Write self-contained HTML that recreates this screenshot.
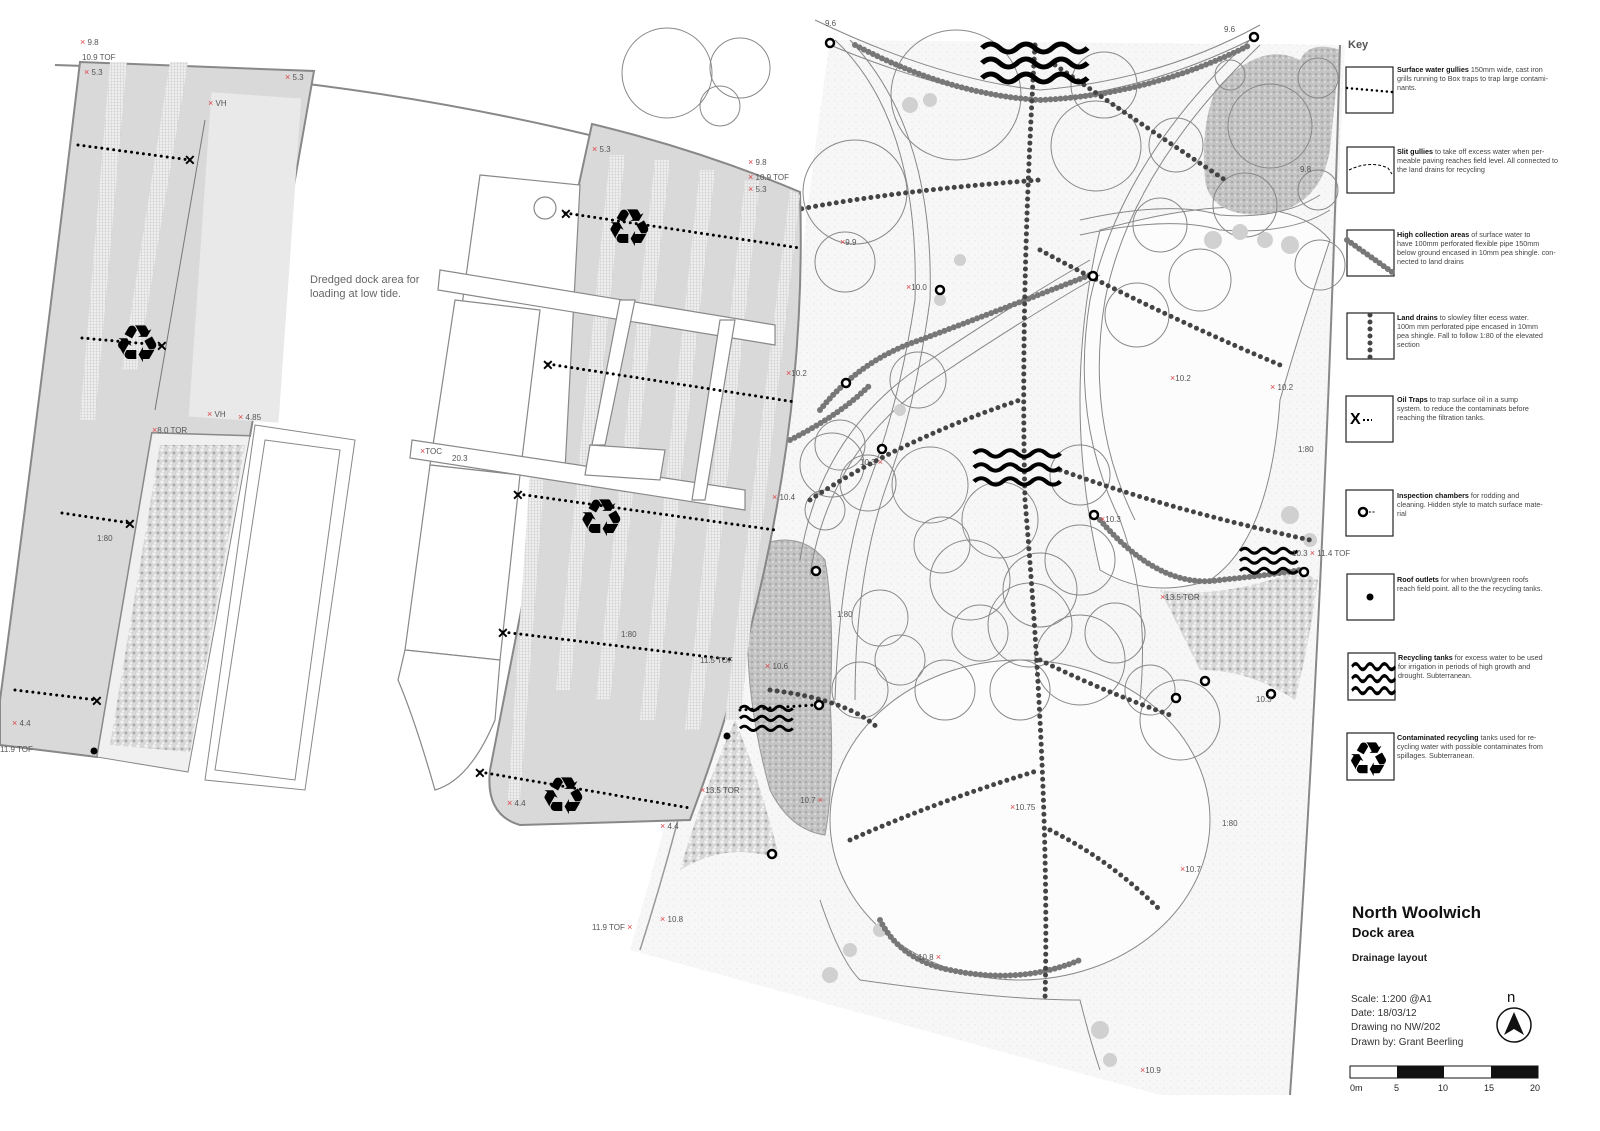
<!DOCTYPE html>
<html><head><meta charset="utf-8"><style>
html,body{margin:0;padding:0;background:#fff;}
svg{display:block;font-family:"Liberation Sans",sans-serif;}
.k{font-size:7.2px;fill:#444}
.kb{font-weight:bold;fill:#111}
.el{font-size:8px;fill:#555}
.rx{fill:#d44;font-size:9px}
</style></head><body>
<svg width="1600" height="1131" viewBox="0 0 1600 1131" xmlns="http://www.w3.org/2000/svg">
<defs>
<pattern id="hatch" width="3" height="3" patternUnits="userSpaceOnUse"><rect width="3" height="3" fill="#eee"/><path d="M0 0H3M0 0V3" stroke="#bbb" stroke-width="0.6"/></pattern>
<pattern id="grav" width="8" height="8" patternUnits="userSpaceOnUse"><rect width="8" height="8" fill="#d8d8d8"/><circle cx="2" cy="2" r="1.6" fill="#f4f4f4"/><circle cx="6" cy="5" r="1.4" fill="#aaa"/><circle cx="3" cy="7" r="1" fill="#fafafa"/></pattern>
<pattern id="dark" width="6" height="6" patternUnits="userSpaceOnUse"><rect width="6" height="6" fill="#c4c4c4"/><circle cx="2" cy="2" r="1.3" fill="#aaa"/><circle cx="5" cy="4" r="1" fill="#ddd"/></pattern>
<pattern id="spk" width="7" height="7" patternUnits="userSpaceOnUse"><rect width="7" height="7" fill="#f7f7f7"/><circle cx="2" cy="3" r="0.5" fill="#d4d4d4"/><circle cx="5" cy="6" r="0.4" fill="#ddd"/></pattern>
<g id="wave"><path d="M0 8 q8 -8 16 0 t16 0 t16 0 t16 0 t16 0 t16 0" fill="none" stroke="#000" stroke-width="5"/></g>
</defs>

<!-- right site speckled area -->
<path d="M790 380 Q800 250 830 40 L1345 45 Q1320 600 1290 1095 L1160 1095 L630 950 Q700 700 790 380 Z" fill="url(#spk)"/>
<ellipse cx="1020" cy="820" rx="190" ry="160" fill="#fcfcfc" stroke="#888" stroke-width="1"/>
<path d="M1100 230 Q1280 180 1330 240 Q1300 330 1280 400 Q1270 540 1210 580 Q1150 600 1100 570 Q1060 400 1100 230Z" fill="#fcfcfc" stroke="#888"/>

<!-- dark grey patches -->
<path d="M1215 90 Q1260 40 1300 60 Q1310 40 1340 50 L1330 150 Q1320 210 1260 215 Q1210 215 1205 180 Q1200 130 1215 90Z" fill="url(#dark)"/>
<path d="M760 545 Q800 530 825 560 Q835 620 830 700 Q835 780 825 835 Q790 830 770 790 Q745 700 748 620 Q745 560 760 545Z" fill="url(#dark)" stroke="#999"/>
<path d="M1160 590 Q1220 600 1300 570 L1318 580 Q1310 640 1295 700 Q1250 670 1200 670 Q1180 630 1160 590Z" fill="url(#grav)"/>
<path d="M735 720 Q760 780 780 860 Q730 840 680 870 Q700 800 735 720Z" fill="url(#grav)"/>

<path d="M1340 45 Q1325 600 1290 1095" fill="none" stroke="#888" stroke-width="2"/>
<path d="M760 400 Q720 700 640 950" fill="none" stroke="#999" stroke-width="1.5"/>

<g fill="none" stroke="#888" stroke-width="1">
<path d="M815 20 Q940 80 1040 90 Q1160 80 1260 25"/>
<path d="M830 45 Q950 95 1040 100 Q1150 90 1250 40"/>
<path d="M835 40 Q920 120 915 300 Q900 400 870 480 Q840 560 835 700"/>
<path d="M850 40 Q935 130 930 300 Q915 410 885 490 Q855 580 855 700"/>
<path d="M1250 40 Q1120 160 1090 300 Q1070 420 1120 520 Q1150 600 1140 700"/>
<path d="M1260 45 Q1130 170 1105 300 Q1085 420 1135 520"/>
<path d="M800 560 Q820 430 930 360 Q1020 300 1090 260"/>
<path d="M810 575 Q830 445 940 375 Q1030 315 1100 275"/>
<path d="M1080 220 Q1170 200 1220 215 Q1280 220 1320 195"/>
<path d="M1080 235 Q1170 215 1220 230 Q1290 235 1330 210"/>
<path d="M820 900 Q840 960 860 980 Q1000 1000 1080 1000 Q1090 1040 1100 1070"/>
</g>
<g fill="none" stroke="#888" stroke-width="1">
<circle cx="667" cy="73" r="45"/><circle cx="740" cy="68" r="30"/><circle cx="720" cy="106" r="20"/>
<circle cx="956" cy="95" r="65"/><circle cx="855" cy="192" r="52"/><circle cx="845" cy="262" r="30"/>
<circle cx="1104" cy="85" r="33"/><circle cx="1096" cy="146" r="45"/><circle cx="1176" cy="145" r="27"/>
<circle cx="1270" cy="126" r="42"/><circle cx="1318" cy="78" r="20"/><circle cx="1230" cy="75" r="15"/>
<circle cx="1245" cy="205" r="32"/><circle cx="1160" cy="225" r="27"/><circle cx="1200" cy="280" r="31"/>
<circle cx="1137" cy="315" r="32"/><circle cx="1320" cy="265" r="25"/><circle cx="1318" cy="190" r="20"/>
<circle cx="918" cy="380" r="28"/><circle cx="840" cy="445" r="25"/><circle cx="832" cy="465" r="32"/>
<circle cx="868" cy="483" r="28"/><circle cx="825" cy="510" r="20"/><circle cx="930" cy="485" r="38"/>
<circle cx="1080" cy="475" r="30"/><circle cx="1000" cy="520" r="38"/><circle cx="1080" cy="560" r="35"/>
<circle cx="942" cy="545" r="28"/><circle cx="1040" cy="590" r="37"/><circle cx="970" cy="580" r="40"/>
<circle cx="1030" cy="625" r="42"/><circle cx="1115" cy="633" r="30"/><circle cx="1080" cy="660" r="45"/>
<circle cx="980" cy="633" r="28"/><circle cx="880" cy="618" r="28"/><circle cx="860" cy="690" r="28"/>
<circle cx="900" cy="660" r="25"/><circle cx="945" cy="690" r="30"/><circle cx="1020" cy="690" r="30"/>
<circle cx="1180" cy="720" r="40"/><circle cx="1150" cy="690" r="25"/>
</g>
<g fill="#d0d0d0">
<circle cx="910" cy="105" r="8"/><circle cx="930" cy="100" r="7"/><circle cx="1213" cy="240" r="9"/><circle cx="1240" cy="232" r="8"/><circle cx="1265" cy="240" r="8"/>
<circle cx="1290" cy="245" r="9"/><circle cx="1290" cy="515" r="9"/><circle cx="1310" cy="540" r="7"/>
<circle cx="830" cy="975" r="8"/><circle cx="850" cy="950" r="7"/><circle cx="1100" cy="1030" r="9"/><circle cx="1110" cy="1060" r="7"/>
<circle cx="880" cy="930" r="7"/><circle cx="900" cy="410" r="6"/><circle cx="940" cy="300" r="6"/><circle cx="960" cy="260" r="6"/>
</g>

<g fill="none" stroke="#777" stroke-width="6" stroke-linecap="round" stroke-dasharray="0 5">
<path d="M855 45 Q950 95 1040 100 Q1150 95 1250 45"/>
<path d="M820 410 Q860 360 920 340 Q1000 310 1090 275"/>
<path d="M790 440 Q840 415 870 385"/>
<path d="M1100 520 Q1160 590 1220 580 Q1270 575 1300 570"/>
<path d="M880 920 Q900 960 950 970 Q1020 985 1080 960"/>
</g>
<g fill="none" stroke="#444" stroke-width="5" stroke-linecap="round" stroke-dasharray="0 7">
<path d="M1035 45 Q1020 300 1025 500 Q1050 800 1045 1000"/>
<path d="M795 210 Q900 190 1040 180"/>
<path d="M1055 65 Q1150 130 1225 180"/>
<path d="M1040 250 Q1150 310 1280 365"/>
<path d="M810 500 Q900 440 1020 400"/>
<path d="M1060 470 Q1170 510 1310 540"/>
<path d="M850 840 Q940 800 1040 770"/>
<path d="M1040 660 Q1100 690 1170 715"/>
<path d="M1050 830 Q1110 860 1160 910"/>
<path d="M770 690 Q850 700 880 730"/>
</g>

<path d="M55 65 Q430 75 785 190" fill="none" stroke="#888" stroke-width="2"/>
<path d="M80 62 L314 71 L250 436 L152 433 L97 757 L0 745 L0 700 Q40 400 80 62Z" fill="#d9d9d9" stroke="#888" stroke-width="2"/>
<rect x="200" y="95" width="90" height="325" fill="#e9e9e9" transform="rotate(4 245 257)"/>
<path d="M205 120 L155 410" stroke="#777" fill="none"/>
<g fill="url(#hatch)"><path d="M110 62 L127 62 L95 420 L80 420Z"/><path d="M170 62 L188 62 L137 370 L122 370Z"/></g>
<path d="M152 433 L250 436 L188 772 L97 757Z" fill="#f0f0f0" stroke="#888"/>
<path d="M160 445 L245 445 L190 752 L110 745Z" fill="url(#grav)"/>
<path d="M255 425 L355 440 L305 790 L205 780Z" fill="#fff" stroke="#888"/>
<path d="M265 440 L340 450 L295 780 L215 770Z" fill="none" stroke="#888"/>
<path d="M592 124 Q700 150 800 192 Q810 500 690 820 L520 825 Q485 815 490 770 L530 565 L566 244 Z" fill="#d9d9d9" stroke="#888" stroke-width="2"/>
<g fill="url(#hatch)">
<path d="M610 155 L625 155 L570 690 L556 690Z"/><path d="M655 160 L670 160 L610 700 L596 700Z"/>
<path d="M700 170 L715 170 L655 720 L640 720Z"/><path d="M745 180 L760 180 L700 730 L685 730Z"/>
<path d="M790 190 L800 195 L740 720 L725 720Z"/><path d="M530 470 L545 470 L520 800 L508 800Z"/>
</g>
<g fill="#fff" stroke="#888" stroke-width="1.2">
<path d="M480 175 L580 185 L565 470 L440 465Z"/>
<circle cx="545" cy="208" r="11"/>
<path d="M440 270 L775 325 L775 345 L438 290Z"/>
<path d="M455 300 L540 310 L520 475 L430 465Z"/>
<path d="M412 440 L745 490 L745 510 L410 458Z"/>
<path d="M430 465 L520 475 L500 660 L405 650Z"/>
<path d="M405 650 L500 660 L495 720 Q470 780 435 790 Q415 720 398 680Z"/>
<path d="M590 445 L665 450 L660 480 L585 475Z"/>
<path d="M620 300 L635 300 L605 445 L592 445Z"/>
<path d="M720 320 L735 320 L705 500 L692 500Z"/>
</g>
<text x="310" y="283" font-size="11" fill="#666">Dredged dock area for</text>
<text x="310" y="297" font-size="11" fill="#666">loading at low tide.</text>

<g fill="none" stroke="#000" stroke-width="3" stroke-linecap="round" stroke-dasharray="0 6">
<path d="M78 145 L190 160"/><path d="M82 338 L160 345"/><path d="M62 513 L130 523"/><path d="M15 690 L97 700"/>
<path d="M565 213 L800 248"/><path d="M548 364 L795 402"/><path d="M518 494 L775 530"/><path d="M503 632 L735 660"/><path d="M480 772 L690 808"/>
<path d="M740 710 L815 705"/>
</g>
<g font-size="14" font-weight="bold" fill="#000">
<text x="184" y="165">✕</text><text x="156" y="351">✕</text><text x="124" y="529">✕</text><text x="91" y="706">✕</text>
<text x="560" y="219">✕</text><text x="542" y="370">✕</text><text x="512" y="500">✕</text><text x="497" y="638">✕</text><text x="474" y="778">✕</text>
</g>
<g font-size="52" fill="#000" font-family="DejaVu Sans,sans-serif">
<text x="114" y="362">♻</text><text x="606" y="246">♻</text><text x="578" y="536">♻</text><text x="540" y="814">♻</text>
</g>
<g fill="#000"><circle cx="94" cy="751" r="3.5"/><circle cx="727" cy="736" r="3.5"/><circle cx="122" cy="345" r="4"/></g>
<g fill="#fff" stroke="#000" stroke-width="2.5">
<circle cx="830" cy="43" r="4"/><circle cx="1254" cy="37" r="4"/><circle cx="940" cy="290" r="4"/><circle cx="1093" cy="276" r="4"/>
<circle cx="846" cy="383" r="4"/><circle cx="882" cy="449" r="4"/><circle cx="1094" cy="515" r="4"/><circle cx="816" cy="571" r="4"/>
<circle cx="819" cy="705" r="4"/><circle cx="1304" cy="572" r="4"/><circle cx="1205" cy="681" r="4"/><circle cx="1176" cy="698" r="4"/>
<circle cx="1271" cy="694" r="4"/><circle cx="772" cy="854" r="4"/>
</g>
<use href="#wave" transform="translate(982 40) scale(1.1 1)"/><use href="#wave" transform="translate(982 55) scale(1.1 1)"/><use href="#wave" transform="translate(982 70) scale(1.1 1)"/>
<use href="#wave" transform="translate(974 447) scale(0.9 0.8)"/><use href="#wave" transform="translate(974 461) scale(0.9 0.8)"/><use href="#wave" transform="translate(974 475) scale(0.9 0.8)"/>
<use href="#wave" transform="translate(1240 546) scale(0.6 0.6)"/><use href="#wave" transform="translate(1240 556) scale(0.6 0.6)"/><use href="#wave" transform="translate(1240 566) scale(0.6 0.6)"/>
<use href="#wave" transform="translate(740 704) scale(0.55 0.55)"/><use href="#wave" transform="translate(740 714) scale(0.55 0.55)"/><use href="#wave" transform="translate(740 724) scale(0.55 0.55)"/>

<g class="el">
<text x="80" y="45"><tspan class="rx">×</tspan> 9.8</text><text x="82" y="60">10.9 TOF</text><text x="84" y="75"><tspan class="rx">×</tspan> 5.3</text>
<text x="285" y="80"><tspan class="rx">×</tspan> 5.3</text><text x="208" y="106"><tspan class="rx">×</tspan> VH</text>
<text x="207" y="417"><tspan class="rx">×</tspan> VH</text><text x="238" y="420"><tspan class="rx">×</tspan> 4.85</text><text x="152" y="433"><tspan class="rx">×</tspan>8.0 TOR</text>
<text x="97" y="541">1:80</text><text x="12" y="726"><tspan class="rx">×</tspan> 4.4</text><text x="0" y="752">11.9 TOF</text>
<text x="592" y="152"><tspan class="rx">×</tspan> 5.3</text><text x="748" y="165"><tspan class="rx">×</tspan> 9.8</text><text x="748" y="180"><tspan class="rx">×</tspan> 10.9 TOF</text><text x="748" y="192"><tspan class="rx">×</tspan> 5.3</text>
<text x="420" y="454"><tspan class="rx">×</tspan>TOC</text><text x="452" y="461">20.3</text><text x="621" y="637">1:80</text>
<text x="507" y="806"><tspan class="rx">×</tspan> 4.4</text><text x="660" y="829"><tspan class="rx">×</tspan> 4.4</text>
<text x="592" y="930">11.9 TOF <tspan class="rx">×</tspan></text><text x="660" y="922"><tspan class="rx">×</tspan> 10.8</text>
<text x="772" y="500"><tspan class="rx">×</tspan> 10.4</text><text x="786" y="376"><tspan class="rx">×</tspan>10.2</text><text x="840" y="245"><tspan class="rx">×</tspan>9.9</text>
<text x="906" y="290"><tspan class="rx">×</tspan>10.0</text><text x="860" y="465">10.3 <tspan class="rx">×</tspan></text><text x="1100" y="522"><tspan class="rx">×</tspan>10.3</text>
<text x="1170" y="381"><tspan class="rx">×</tspan>10.2</text><text x="1270" y="390"><tspan class="rx">×</tspan> 10.2</text><text x="1298" y="452">1:80</text>
<text x="1292" y="556">10.3 <tspan class="rx">×</tspan> 11.4 TOF</text><text x="1160" y="600"><tspan class="rx">×</tspan>13.5 TOR</text>
<text x="765" y="669"><tspan class="rx">×</tspan> 10.6</text><text x="837" y="617">1:80</text><text x="700" y="663">11.5 TOF</text>
<text x="700" y="793"><tspan class="rx">×</tspan>13.5 TOR</text><text x="800" y="803">10.7 <tspan class="rx">×</tspan></text>
<text x="1010" y="810"><tspan class="rx">×</tspan>10.75</text><text x="1180" y="872"><tspan class="rx">×</tspan>10.7</text><text x="1222" y="826">1:80</text>
<text x="918" y="960">10.8 <tspan class="rx">×</tspan></text><text x="1140" y="1073"><tspan class="rx">×</tspan>10.9</text>
<text x="825" y="26">9.6</text><text x="1224" y="32">9.6</text><text x="1300" y="172">9.8</text><text x="1256" y="702">10.3</text>
</g>

<text x="1348" y="48" font-size="11" font-weight="bold" fill="#555">Key</text>
<g fill="#fff" stroke="#222" stroke-width="1.2">
<rect x="1346" y="67" width="47" height="46"/><rect x="1347" y="147" width="47" height="46"/><rect x="1347" y="230" width="47" height="46"/>
<rect x="1347" y="313" width="47" height="46"/><rect x="1346" y="396" width="47" height="46"/><rect x="1346" y="490" width="47" height="46"/>
<rect x="1347" y="574" width="47" height="46"/><rect x="1348" y="653" width="47" height="47"/><rect x="1347" y="733" width="47" height="47"/>
</g>
<path d="M1347 88 L1392 92" stroke="#000" stroke-width="2.5" stroke-dasharray="0 5" stroke-linecap="round"/>
<path d="M1349 170 Q1370 160 1388 168 L1392 174" stroke="#000" fill="none" stroke-dasharray="3 2"/>
<path d="M1347 240 L1392 272" stroke="#777" stroke-width="6" stroke-dasharray="0 5" stroke-linecap="round"/>
<path d="M1370 315 L1370 358" stroke="#444" stroke-width="5" stroke-dasharray="0 7" stroke-linecap="round"/>
<text x="1350" y="424" font-size="16" font-weight="bold">X</text><path d="M1363 420 L1372 420" stroke="#000" stroke-width="2" stroke-dasharray="2 2"/>
<circle cx="1363" cy="512" r="4" fill="#fff" stroke="#000" stroke-width="2.5"/><path d="M1369 512 L1376 512" stroke="#000" stroke-dasharray="2 1.5"/>
<circle cx="1370" cy="597" r="3.5" fill="#000"/>
<use href="#wave" transform="translate(1352 661) scale(0.45 0.7)"/><use href="#wave" transform="translate(1352 673) scale(0.45 0.7)"/><use href="#wave" transform="translate(1352 685) scale(0.45 0.7)"/>
<text x="1347" y="776" font-size="48" font-family="DejaVu Sans,sans-serif">♻</text>
<g class="k">
<text x="1397" y="72"><tspan class="kb">Surface water gullies</tspan> 150mm wide, cast iron</text><text x="1397" y="81">grills  running to Box traps to trap large contami-</text><text x="1397" y="90">nants.</text>
<text x="1397" y="154"><tspan class="kb">Slit gullies</tspan> to take off excess water when per-</text><text x="1397" y="163">meable paving reaches field level. All connected to</text><text x="1397" y="172">the land drains for recycling</text>
<text x="1397" y="237"><tspan class="kb">High collection areas</tspan> of surface water to</text><text x="1397" y="246">have 100mm perforated flexible pipe 150mm</text><text x="1397" y="255">below ground encased in 10mm pea shingle. con-</text><text x="1397" y="264">nected to land drains</text>
<text x="1397" y="320"><tspan class="kb">Land drains</tspan> to slowley filter ecess water.</text><text x="1397" y="329">100m mm perforated pipe encased in 10mm</text><text x="1397" y="338">pea shingle. Fall to follow 1:80 of the elevated</text><text x="1397" y="347">section</text>
<text x="1397" y="402"><tspan class="kb">Oil Traps</tspan> to trap surface oil in a sump</text><text x="1397" y="411">system. to reduce the contaminats before</text><text x="1397" y="420">reaching the filtration tanks.</text>
<text x="1397" y="498"><tspan class="kb">Inspection chambers</tspan> for rodding and</text><text x="1397" y="507">cleaning. Hidden style to match surface mate-</text><text x="1397" y="516">rial</text>
<text x="1397" y="582"><tspan class="kb">Roof outlets</tspan> for when brown/green roofs</text><text x="1397" y="591">reach field point. all to the the recycling tanks.</text>
<text x="1398" y="660"><tspan class="kb">Recycling tanks</tspan> for excess water to be used</text><text x="1398" y="669">for irrigation in periods of high growth and</text><text x="1398" y="678">drought. Subterranean.</text>
<text x="1397" y="740"><tspan class="kb">Contaminated recycling</tspan> tanks used for re-</text><text x="1397" y="749">cycling water with possible contaminates from</text><text x="1397" y="758">spillages. Subterranean.</text>
</g>

<text x="1352" y="918" font-size="17" font-weight="bold" fill="#111">North Woolwich</text>
<text x="1352" y="937" font-size="13" font-weight="bold" fill="#111">Dock area</text>
<text x="1352" y="961" font-size="10" font-weight="bold" fill="#222">Drainage layout</text>
<g font-size="10" fill="#333">
<text x="1351" y="1002">Scale: 1:200 @A1</text><text x="1351" y="1016">Date: 18/03/12</text><text x="1351" y="1030">Drawing no  NW/202</text><text x="1351" y="1045">Drawn by: Grant Beerling</text>
</g>
<text x="1507" y="1002" font-size="15" fill="#111">n</text>
<circle cx="1514" cy="1025" r="17" fill="#fff" stroke="#111" stroke-width="1.5"/>
<path d="M1514 1012 L1524 1035 L1514 1029 L1504 1035Z" fill="#111"/>
<rect x="1350" y="1066" width="188" height="12" fill="#fff" stroke="#111"/>
<rect x="1397" y="1066" width="47" height="12" fill="#111"/><rect x="1491" y="1066" width="47" height="12" fill="#111"/>
<g font-size="9" fill="#222"><text x="1350" y="1091">0m</text><text x="1394" y="1091">5</text><text x="1438" y="1091">10</text><text x="1484" y="1091">15</text><text x="1530" y="1091">20</text></g>
</svg>
</body></html>
